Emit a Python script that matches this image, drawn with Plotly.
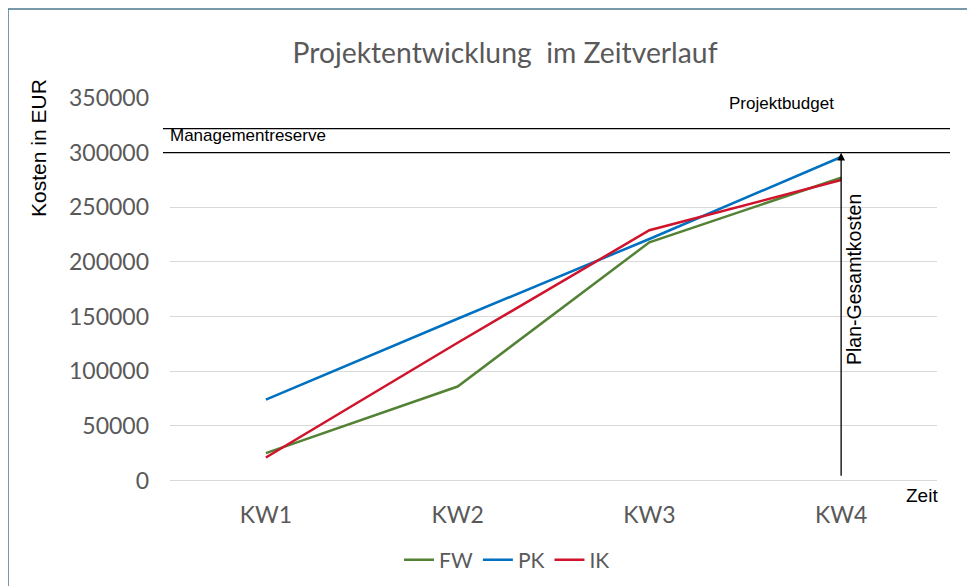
import plotly.graph_objects as go

categories = ["KW1", "KW2", "KW3", "KW4"]
fw_values = [25000, 86000, 218000, 277000]
pk_values = [74000, 148000, 221000, 296000]
ik_values = [21000, 126000, 229000, 275000]
y_ticks = [0, 50000, 100000, 150000, 200000, 250000, 300000, 350000]
budget_level = 322000
plan_level = 300000
arrow_base = 3000

series = [("FW", fw_values, "#548235"), ("PK", pk_values, "#0070C0"), ("IK", ik_values, "#D0142C")]

fig = go.Figure()
for name, vals, col in series:
    fig.add_trace(go.Scatter(x=categories, y=vals, mode="lines", name=name,
                             line=dict(color=col, width=2.5)))

W, H = 975, 586
OFF = 8  # page body margin
TOP_PX, BOT_PX = 98, 485  # reference rows of 350000 and 0
L, T = 170 - OFF, TOP_PX - OFF
R = W - (937 - OFF)
B = H - (BOT_PX - OFF)
pw = W - L - R
ph = H - T - B
YMAX = 350000


def px_x(p):
    return (p - OFF - L) / pw


def px_y(p):
    return (H - B - (p - OFF)) / ph


def dy(p):
    # pixel row in the reference -> value on the y axis
    return (BOT_PX - p) / (BOT_PX - TOP_PX) * YMAX


def cx(p):
    return (p - OFF) / W


def cy(p):
    return 1 - (p - OFF) / H


sans = "Liberation Sans, Arial, sans-serif"
cal = "Lato, Carlito, Calibri, sans-serif"

shapes = [
    dict(type="rect", xref="paper", yref="paper", x0=px_x(8), x1=px_x(1000), y0=px_y(640), y1=px_y(8),
         line=dict(color="#4a7a8a", width=1.5), fillcolor="rgba(0,0,0,0)", layer="below"),
    dict(type="line", xref="paper", yref="y", x0=px_x(163), x1=px_x(950), y0=budget_level, y1=budget_level,
         line=dict(color="black", width=1.3)),
    dict(type="line", xref="paper", yref="y", x0=px_x(163), x1=px_x(950), y0=plan_level, y1=plan_level,
         line=dict(color="black", width=1.3)),
]

annotations = [
    dict(x=categories[-1], y=plan_level, xref="x", yref="y", ax=categories[-1], ay=arrow_base,
         axref="x", ayref="y", showarrow=True, arrowhead=2, arrowsize=1.2, arrowwidth=1.3,
         arrowcolor="black", text=""),
    dict(x=categories[-1], y=dy(282), xref="x", yref="y", xshift=13, text="Plan-Gesamtkosten",
         textangle=-90, showarrow=False, font=dict(family=sans, size=19.5, color="black")),
    dict(x=px_x(836), y=dy(104), xref="paper", yref="y", yanchor="middle", text="Projektbudget",
         showarrow=False, font=dict(family=sans, size=17, color="black")),
    dict(x=px_x(168), y=dy(136), xref="paper", yref="y", xanchor="left", yanchor="middle",
         text="Managementreserve", showarrow=False, font=dict(family=sans, size=17, color="black")),
    dict(x=px_x(940), y=0, xref="paper", yref="y", xanchor="right", yanchor="top", yshift=-2,
         text="Zeit", showarrow=False, font=dict(family=sans, size=19, color="black")),
    dict(x=px_x(25), y=dy(149), xref="paper", yref="y", yanchor="middle", text="Kosten in EUR",
         textangle=-90, showarrow=False, font=dict(family=sans, size=21, color="black")),
]

fig.update_layout(
    width=W, height=H,
    margin=dict(l=L, r=R, t=T, b=B),
    paper_bgcolor="white", plot_bgcolor="white",
    title=dict(text="Projektentwicklung\u00a0 im Zeitverlauf", x=cx(505), xref="container", xanchor="center",
               y=cy(53), yref="container", yanchor="middle",
               font=dict(family=cal, size=28.3, color="#595959")),
    showlegend=True,
    legend=dict(orientation="h", xref="container", yref="container", x=cx(507), xanchor="center",
                y=cy(560), yanchor="middle", font=dict(family=cal, size=21, color="#595959"),
                itemwidth=30, bgcolor="rgba(0,0,0,0)"),
    xaxis=dict(type="category", categoryorder="array", categoryarray=categories, showgrid=False,
               showline=False, zeroline=False, ticks="", ticklabelstandoff=18,
               tickfont=dict(family=cal, size=23, color="#595959"), range=[-0.5, 3.5]),
    yaxis=dict(range=[0, YMAX], tickvals=y_ticks, ticktext=[str(v) for v in y_ticks],
               showgrid=True, gridcolor="#d9d9d9", gridwidth=1, zeroline=True, zerolinecolor="#d9d9d9",
               zerolinewidth=1, showline=False, ticks="", ticklabelstandoff=20,
               tickfont=dict(family=cal, size=23, color="#595959")),
    shapes=shapes,
    annotations=annotations,
)

fig.write_html("out.html")
